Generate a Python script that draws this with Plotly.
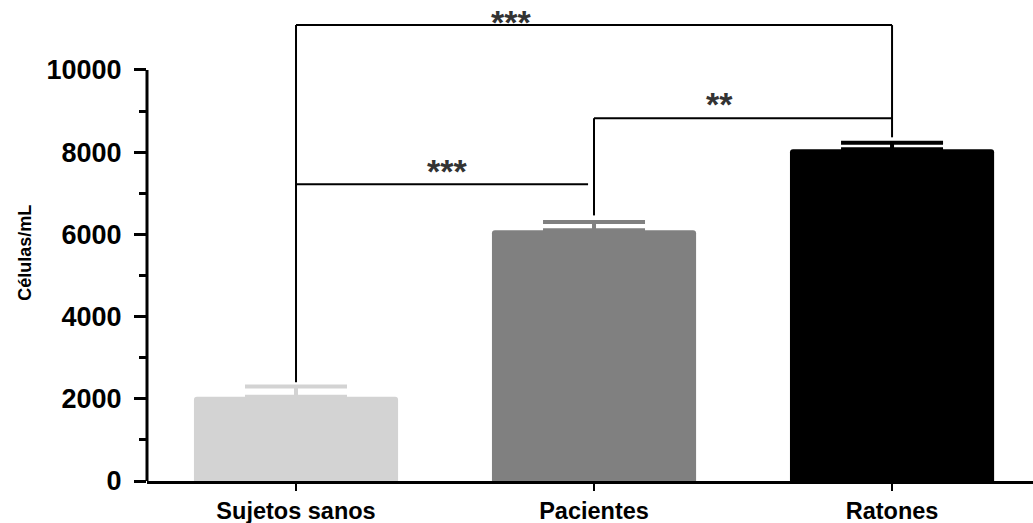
import plotly.graph_objects as go

# ---- data ----
categories = ["Sujetos sanos", "Pacientes", "Ratones"]
means = [2050, 6100, 8070]
errors_up = [250, 200, 155]
bar_colors = ["#d3d3d3", "#808080", "#000000"]

y_tick_vals = [0, 2000, 4000, 6000, 8000, 10000]
y_tick_text = ["0", "2000", "4000", "6000", "8000", "10000"]
y_minor_vals = [1000, 3000, 5000, 7000, 9000]
y_title = "Células/mL"

# significance brackets
brackets = [
    dict(x0=0, x1=2, y=11090, yl=2400, yr=8360, label="***", lx=0.72, ly=None),
    dict(x0=1, x1=2, y=8825, yl=6460, yr=None, label="**", lx=1.42, ly=9180),
    dict(x0=0, x1=0.98, y=7220, yl=None, yr=None, label="***", lx=0.505, ly=7530),
]

FONT = "Liberation Sans, Arial, sans-serif"
L_MARGIN, PLOT_W = 147, 886

fig = go.Figure()
for i, (m, e, col) in enumerate(zip(means, errors_up, bar_colors)):
    fig.add_trace(go.Bar(
        x=[i], y=[m], width=0.685,
        marker=dict(color=col, line=dict(width=0), cornerradius=3),
        error_y=dict(type="data", symmetric=False, array=[e], arrayminus=[0],
                     thickness=4, width=51, color=col),
        showlegend=False,
    ))

shapes = []
# y-axis line from 0 to 10000 (GraphPad style)
shapes.append(dict(type="line", xref="paper", yref="y", x0=0, x1=0,
                   y0=0, y1=y_tick_vals[-1], line=dict(color="black", width=3)))

annotations = []
for b in brackets:
    shapes.append(dict(type="line", xref="x", yref="y", x0=b["x0"], x1=b["x1"],
                       y0=b["y"], y1=b["y"], line=dict(color="black", width=2)))
    if b["yl"] is not None:
        shapes.append(dict(type="line", xref="x", yref="y", x0=b["x0"], x1=b["x0"],
                           y0=b["y"], y1=b["yl"], line=dict(color="black", width=2)))
    if b["yr"] is not None:
        shapes.append(dict(type="line", xref="x", yref="y", x0=b["x1"], x1=b["x1"],
                           y0=b["y"], y1=b["yr"], line=dict(color="black", width=2)))
    if b["ly"] is None:
        ann = dict(x=b["lx"], y=1, xref="x", yref="paper", yanchor="top", yshift=-1)
    else:
        ann = dict(x=b["lx"], y=b["ly"], xref="x", yref="y", yanchor="middle")
    ann.update(text=b["label"], showarrow=False, xanchor="center",
               font=dict(family=FONT, size=34, color="#333333", weight="bold"))
    annotations.append(ann)

# y-axis title as rotated annotation
annotations.append(dict(
    x=(25 - L_MARGIN) / PLOT_W, y=5550,
    xref="paper", yref="y", text=y_title, textangle=-90, showarrow=False,
    xanchor="center", yanchor="middle",
    font=dict(family=FONT, size=18, color="black", weight="bold"),
))

fig.update_layout(
    width=1033, height=523,
    margin=dict(l=L_MARGIN, r=0, t=0, b=42),
    paper_bgcolor="white", plot_bgcolor="white",
    shapes=shapes,
    annotations=annotations,
    font=dict(family=FONT, color="black"),
    xaxis=dict(
        range=[-0.5, 2.473],
        tickmode="array", tickvals=list(range(len(categories))), ticktext=categories,
        ticks="outside", ticklen=7, tickwidth=2, tickcolor="black",
        showline=True, linecolor="black", linewidth=3,
        showgrid=False, zeroline=False, automargin=False,
        tickfont=dict(family=FONT, size=23.5, color="black", weight="bold"),
    ),
    yaxis=dict(
        range=[0, 11700], automargin=False,
        tickmode="array", tickvals=y_tick_vals, ticktext=y_tick_text,
        ticks="outside", ticklen=12, tickwidth=3, tickcolor="black",
        ticklabelstandoff=7,
        minor=dict(tickvals=y_minor_vals, ticks="outside", ticklen=7, tickwidth=3,
                   tickcolor="black", showgrid=False),
        showline=False, showgrid=False, zeroline=False,
        tickfont=dict(family=FONT, size=27, color="black", weight="bold"),
    ),
)

fig.write_html("out.html", config={"displayModeBar": False},
               post_script="document.body.style.margin='0';document.body.style.overflow='hidden';")
